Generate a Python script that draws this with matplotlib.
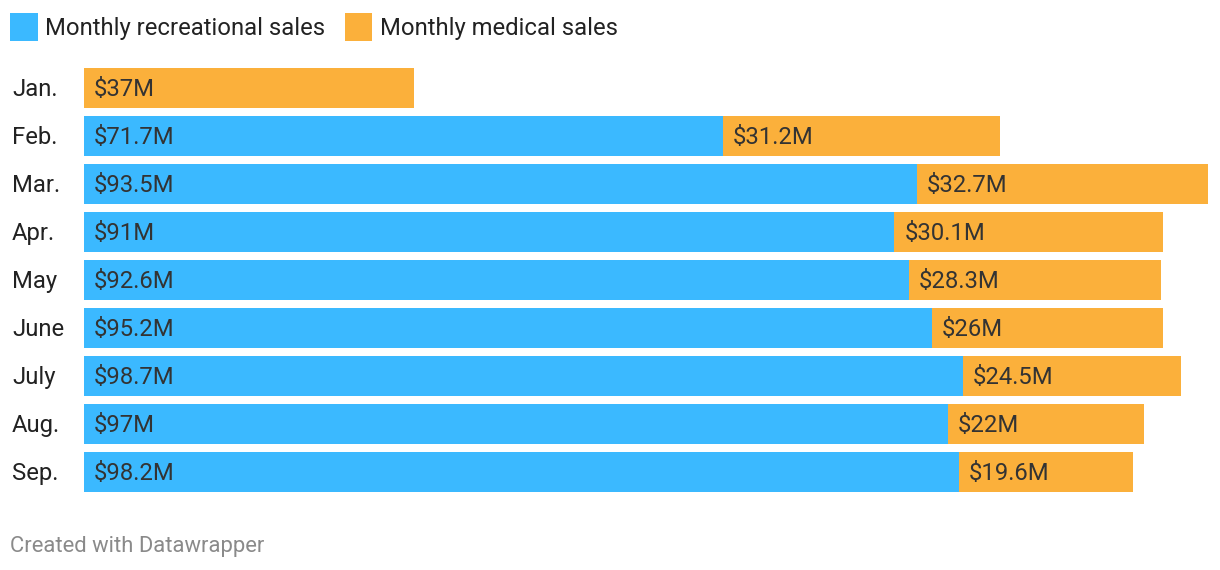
import matplotlib
matplotlib.use("Agg")
import matplotlib.pyplot as plt
from matplotlib.patches import Rectangle

plt.rcParams['font.family'] = ['Roboto', 'DejaVu Sans']

months = ["Jan.", "Feb.", "Mar.", "Apr.", "May", "June", "July", "Aug.", "Sep."]
recreational = [0, 71.7, 93.5, 91, 92.6, 95.2, 98.7, 97, 98.2]
medical = [37, 31.2, 32.7, 30.1, 28.3, 26, 24.5, 22, 19.6]
series_names = ["Monthly recreational sales", "Monthly medical sales"]

BLUE = "#3bb9ff"
ORANGE = "#fbb03b"
TXT = "#333333"

W, H = 1220, 570
fig = plt.figure(figsize=(W / 100, H / 100), dpi=100)

def fx(px):
    return px / W

def fy(py):
    return 1 - py / H

ax = fig.add_axes([fx(84), fy(496), fx(1208 - 84), (496 - 64) / H])
ys = list(range(len(months)))
bh = 40 / 48
ax.barh(ys, recreational, height=bh, color=BLUE, linewidth=0)
ax.barh(ys, medical, left=recreational, height=bh, color=ORANGE, linewidth=0)
ax.set_xlim(0, max(r + m for r, m in zip(recreational, medical)))
ax.set_ylim(len(months) - 0.5, -0.5)
ax.axis('off')

fs = 17.2
for i, (r, m) in enumerate(zip(recreational, medical)):
    if r > 0:
        ax.annotate(f"${r:g}M", (0, i), xytext=(10, 1), textcoords='offset pixels',
                    va='center_baseline', ha='left', fontsize=fs, color=TXT)
    ax.annotate(f"${m:g}M", (r, i), xytext=(10, 1), textcoords='offset pixels',
                va='center_baseline', ha='left', fontsize=fs, color=TXT)
    ax.annotate(months[i], (0, i), xytext=(12 - 84, 1), textcoords='offset pixels',
                va='center_baseline', ha='left', fontsize=fs, color="#222222")

# legend
fig.patches.append(Rectangle((fx(10), fy(41)), fx(28), 28 / H, transform=fig.transFigure,
                             color=BLUE, linewidth=0))
fig.text(fx(45), fy(26), series_names[0], fontsize=fs, color="#222222",
         va='center_baseline', ha='left')
fig.patches.append(Rectangle((fx(345), fy(41)), fx(27), 28 / H, transform=fig.transFigure,
                             color=ORANGE, linewidth=0))
fig.text(fx(380), fy(26), series_names[1], fontsize=fs, color="#222222",
         va='center_baseline', ha='left')

fig.text(fx(10), fy(544), "Created with Datawrapper", fontsize=15.8, color="#8a8a8a",
         va='center_baseline', ha='left')

fig.savefig("out.png", dpi=100, facecolor="white")
